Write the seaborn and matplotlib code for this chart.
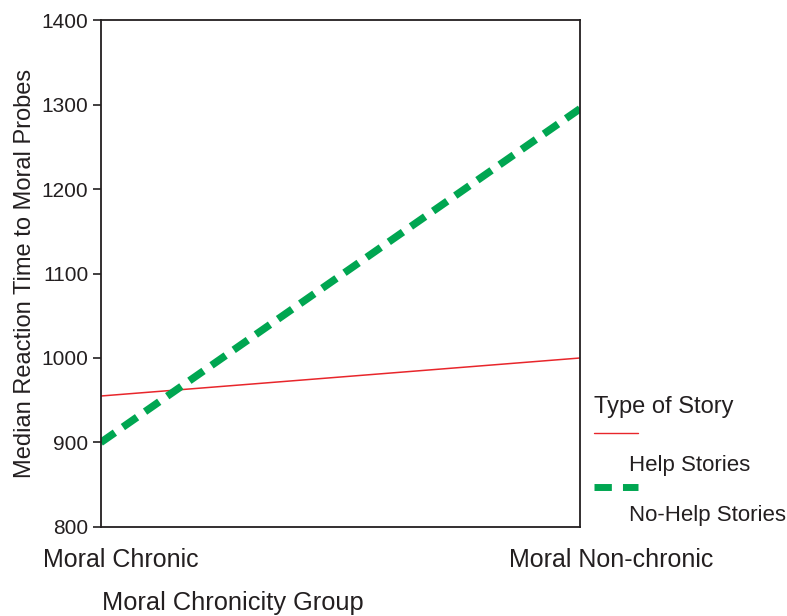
import pandas as pd
import matplotlib.pyplot as plt
import matplotlib.transforms as mtransforms
from matplotlib.lines import Line2D
import seaborn as sns

sns.set_theme(style="ticks")
plt.rcParams["font.family"] = ["Liberation Sans", "DejaVu Sans"]

# data
groups = ["Moral Chronic", "Moral Non-chronic"]
story_types = ["Help Stories", "No-Help Stories"]
help_rt = [955, 1000]
nohelp_rt = [900, 1295]

df = pd.DataFrame({
    "Group": groups * 2,
    "Story": [story_types[0]] * 2 + [story_types[1]] * 2,
    "RT": help_rt + nohelp_rt,
})

red = "#e8262b"
green = "#00a651"
ink = "#231f20"

fig = plt.figure(figsize=(7.87, 6.16), dpi=100)
ax = fig.add_axes([0.128, 0.1445, 0.609, 0.823])

sns.lineplot(data=df, x="Group", y="RT", hue="Story", style="Story",
             hue_order=story_types, style_order=story_types,
             palette={story_types[0]: red, story_types[1]: green},
             dashes={story_types[0]: "", story_types[1]: (2.3, 1.3)},
             size="Story", sizes={story_types[0]: 1.1, story_types[1]: 5.4},
             legend=False, ax=ax)

ax.set_xlim(0, 1)
ax.set_ylim(800, 1400)
ax.set_yticks(range(800, 1401, 100))
ax.set_xticks([0, 1])
ax.set_xticklabels(groups)

for s in ax.spines.values():
    s.set_color(ink)
    s.set_linewidth(1.3)
ax.tick_params(axis="y", length=6, width=1.2, color=ink, labelsize=15,
               labelcolor=ink, pad=3)
ax.tick_params(axis="x", length=0, labelsize=18, labelcolor=ink, pad=15)
# tick labels sit a bit to the right of the ticks in the original
for lab, dx in zip(ax.get_xticklabels(), [0.20, 0.31]):
    off = mtransforms.ScaledTranslation(dx, 0, fig.dpi_scale_trans)
    lab.set_transform(lab.get_transform() + off)

ax.set_xlabel("")
ax.set_ylabel("Median Reaction Time to Moral Probes", fontsize=17,
              color=ink, labelpad=4)
fig.text(102 / 787, 1 - 603 / 616, "Moral Chronicity Group", fontsize=18.3,
         color=ink, ha="left", va="center")

# legend drawn by hand, it is laid out oddly in the original
def fx(px):
    return px / 787

def fy(py):
    return 1 - py / 616

fig.text(fx(594), fy(407), "Type of Story", fontsize=17, color=ink,
         ha="left", va="center")
fig.add_artist(Line2D([fx(594), fx(638)], [fy(433), fy(433)], color=red,
                      lw=1.0, transform=fig.transFigure))
fig.text(fx(629), fy(465), "Help Stories", fontsize=16, color=ink,
         ha="left", va="center")
fig.add_artist(Line2D([fx(594), fx(638)], [fy(487), fy(487)], color=green,
                      lw=5.0, dashes=(2.5, 1.6), dash_capstyle="butt",
                      transform=fig.transFigure))
fig.text(fx(629), fy(516), "No-Help Stories", fontsize=16, color=ink,
         ha="left", va="center")

fig.savefig("out.png", dpi=100)
